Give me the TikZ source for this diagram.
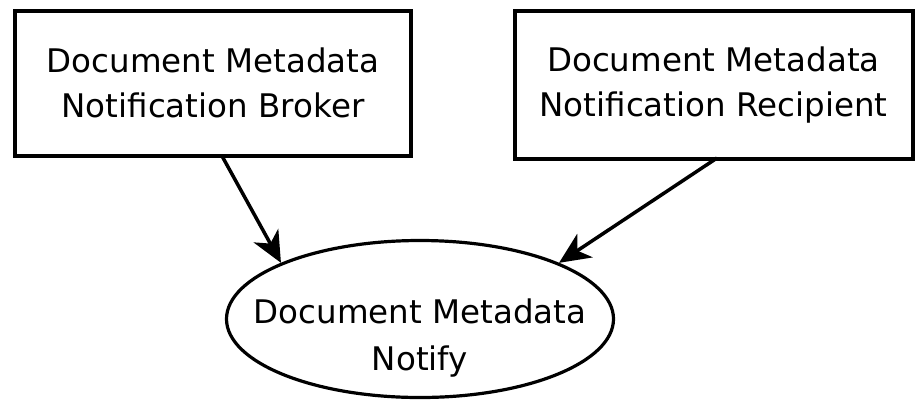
\documentclass[tikz,border=0pt]{standalone}
\usepackage{fontspec}
\setmainfont{DejaVu Sans}
\usetikzlibrary{shapes.geometric,arrows.meta}
\begin{document}
\begin{tikzpicture}[x=1pt,y=-1pt,
  boxnode/.style={draw,line width=4pt,rectangle,align=center,inner sep=0pt,
    font=\fontsize{32.5}{45}\selectfont},
  ellnode/.style={draw,line width=3.2pt,ellipse,align=center,inner ysep=-30pt,inner xsep=-40pt,
    text height=102pt,text depth=0pt,font=\fontsize{32.5}{47}\selectfont},
  conn/.style={line width=3.5pt,-{Stealth[length=31pt,width=28pt,inset=9pt]}}]
\useasboundingbox (0,0) rectangle (917,400);
\node[boxnode,minimum width=396pt,minimum height=145pt] (b1) at (213,83)
  {Document Metadata\\Notification Broker};
\node[boxnode,minimum width=398pt,minimum height=148pt] (b2) at (713.5,85)
  {Document Metadata\\Notification Recipient};
\node[ellnode,minimum width=387pt,minimum height=157pt] (e) at (420,319)
  {Document Metadata\\Notify};
\coordinate (s1) at (222,156);
\coordinate (s2) at (717,158);
\draw[conn] (s1) -- (e.158);
\draw[conn] (s2) -- (e.22);
\end{tikzpicture}
\end{document}
